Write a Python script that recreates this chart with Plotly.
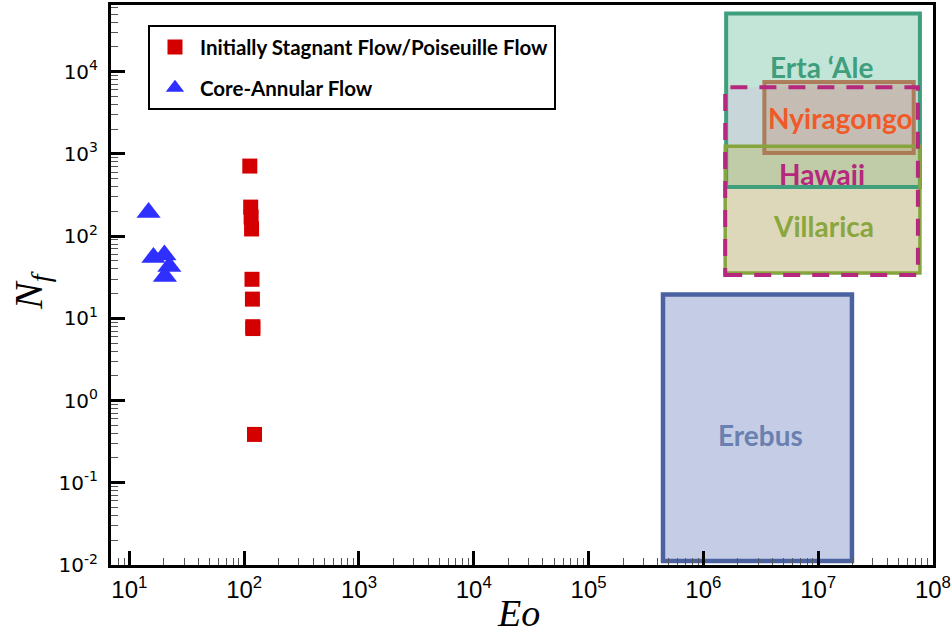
import math
import plotly.graph_objects as go

# ---- data ----
stagnant_eo = [112, 114, 115, 116, 117, 118, 119, 119, 123]
stagnant_nf = [710, 225, 170, 122, 29.8, 17.1, 7.9, 7.5, 0.387]

core_eo = [14.7, 16.2, 20.2, 22.3, 20.4]
core_nf = [194, 55, 59, 42.6, 32.3]

# volcano regions (Eo range, Nf range)
volc_names = ["Erta \u2018Ale", "Hawaii", "Nyiragongo", "Villarica", "Erebus"]
volc_eo0 = [1.58e6, 1.55e6, 3.4e6, 1.55e6, 4.45e5]
volc_eo1 = [7.7e7, 7.4e7, 6.8e7, 7.7e7, 1.97e7]
volc_nf0 = [395, 33.6, 1020, 35.5, 0.0112]
volc_nf1 = [5.1e4, 6450, 7450, 1240, 19.5]
volc_label_eo = [1.06e7, 1.08e7, 1.55e7, 1.12e7, 3.12e6]
volc_label_nf = [11350, 568, 2720, 132, 0.38]

major_vals_x = [1e1, 1e2, 1e3, 1e4, 1e5, 1e6, 1e7, 1e8]
major_text_x = ["10<sup>1</sup>", "10<sup>2</sup>", "10<sup>3</sup>", "10<sup>4</sup>",
                "10<sup>5</sup>", "10<sup>6</sup>", "10<sup>7</sup>", "10<sup>8</sup>"]
major_vals_y = [1e-2, 1e-1, 1e0, 1e1, 1e2, 1e3, 1e4]
major_text_y = ["10<sup>-2</sup>", "10<sup>-1</sup>", "10<sup>0</sup>", "10<sup>1</sup>",
                "10<sup>2</sup>", "10<sup>3</sup>", "10<sup>4</sup>"]

# ---- styles ----
fill_colors = ["rgba(60,170,130,0.31)", "rgba(220,175,220,0.28)", "rgba(192,149,125,0.4)",
               "rgba(174,187,74,0.35)", "rgba(197,205,230,1)"]
line_colors = ["#3f9e7c", "#b5287d", "rgba(170,115,80,0.9)", "#86a53e", "#4a62a0"]
line_dash = ["solid", "17px,12px", "solid", "solid", "solid"]
line_width = [4, 4, 4, 3.5, 4.5]
text_colors = ["#3f9e7c", "#b5287d", "#f05a28", "#8aa63e", "#6a80b0"]

fig = go.Figure()

fig.add_trace(go.Scatter(
    x=stagnant_eo, y=stagnant_nf, mode="markers",
    name="<b>Initially Stagnant Flow/Poiseuille Flow</b>",
    marker=dict(symbol="square", size=15, color="#d40000"),
    legendgroup="a",
))
fig.add_trace(go.Scatter(
    x=core_eo, y=core_nf, mode="markers",
    name="<b>Core-Annular Flow</b>",
    marker=dict(symbol="triangle-up", size=21, color="#2f2fff"),
    legendgroup="b",
))

# region fills (order: Erta, Hawaii fill, Nyiragongo, Villarica, Erebus)
for i in range(len(volc_names)):
    fig.add_shape(type="rect", xref="x", yref="y",
                  x0=volc_eo0[i], x1=volc_eo1[i], y0=volc_nf0[i], y1=volc_nf1[i],
                  fillcolor=fill_colors[i], line=dict(width=0), layer="below")
# borders
order = [0, 2, 3, 4, 1]
for i in order:
    fig.add_shape(type="rect", xref="x", yref="y",
                  x0=volc_eo0[i], x1=volc_eo1[i], y0=volc_nf0[i], y1=volc_nf1[i],
                  fillcolor="rgba(0,0,0,0)",
                  line=dict(color=line_colors[i], width=line_width[i], dash=line_dash[i]),
                  layer="below")

# annotations on log axes take log10 positions
for i in range(len(volc_names)):
    fig.add_annotation(x=math.log10(volc_label_eo[i]), y=math.log10(volc_label_nf[i]),
                       xref="x", yref="y",
                       text="<b>" + volc_names[i] + "</b>", showarrow=False,
                       font=dict(family="Lato", size=28, color=text_colors[i]))

# axis titles
fig.add_annotation(x=-0.098, y=0.49, xref="paper", yref="paper",
                   xanchor="center", yanchor="middle",
                   text="<i>N<sub>f</sub></i>", textangle=-90, showarrow=False,
                   font=dict(family="Liberation Serif", size=40, color="black"))
fig.add_annotation(x=0.496, y=-0.086, xref="paper", yref="paper",
                   xanchor="center", yanchor="middle",
                   text="<i>Eo</i>", showarrow=False,
                   font=dict(family="Liberation Serif", size=38, color="black"))

axis_common = dict(
    type="log", showgrid=False, zeroline=False, automargin=False,
    showline=True, linecolor="black", linewidth=3, mirror=True,
    ticks="inside", ticklen=14, tickwidth=2.5, tickcolor="black",
    ticklabeloverflow="allow",
)

minor_x = [k * 10 ** n for n in range(0, 8) for k in range(2, 10)]
minor_y = [k * 10.0 ** n for n in range(-2, 5) for k in range(2, 10)]

fig.update_xaxes(
    **axis_common,
    range=[0.84, 8.0005],
    tickmode="array", tickvals=major_vals_x, ticktext=major_text_x,
    tickfont=dict(family="Liberation Sans Narrow, Liberation Sans", size=24, color="black"),
    ticklabelstandoff=1,
    minor=dict(tickmode="array", tickvals=minor_x, ticks="inside", ticklen=7,
               tickwidth=1, tickcolor="#555555", showgrid=False),
)
fig.update_yaxes(
    **axis_common,
    range=[-2.0005, 4.81],
    tickmode="array", tickvals=major_vals_y, ticktext=major_text_y,
    tickfont=dict(family="DejaVu Sans", size=20, color="black"),
    ticklabelstandoff=6,
    minor=dict(tickmode="array", tickvals=minor_y, ticks="inside", ticklen=7,
               tickwidth=1, tickcolor="#555555", showgrid=False),
)

fig.update_layout(
    width=951, height=633,
    margin=dict(l=111, r=18, t=5, b=68),
    plot_bgcolor="white", paper_bgcolor="white",
    showlegend=True,
    legend=dict(
        x=0.045, y=0.964, xanchor="left", yanchor="top",
        bgcolor="white", bordercolor="black", borderwidth=2,
        font=dict(family="Lato", size=20.5, color="black"),
        traceorder="grouped", tracegroupgap=11, itemwidth=40,
    ),
)

fig.write_html("out.html", config={"displayModeBar": False},
               post_script="document.body.style.margin='0px';")
